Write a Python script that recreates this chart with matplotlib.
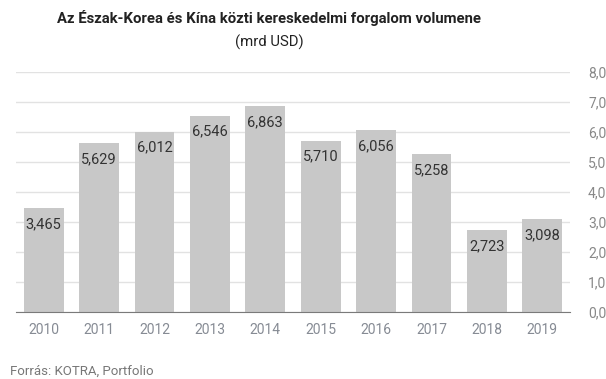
import matplotlib
matplotlib.use("Agg")
import matplotlib.pyplot as plt
from matplotlib.ticker import FuncFormatter

#%% data
years = ['2010', '2011', '2012', '2013', '2014', '2015', '2016', '2017', '2018', '2019']
volume = [3.465, 5.629, 6.012, 6.546, 6.863, 5.710, 6.056, 5.258, 2.723, 3.098]
yticks = [0, 1, 2, 3, 4, 5, 6, 7, 8]

plt.rcParams['font.family'] = ['Roboto', 'DejaVu Sans']

#%% figure
fig = plt.figure(figsize=(6.06, 3.79), dpi=100)
ax = fig.add_axes([16/606, 1 - 312/379, (570 - 16)/606, 240/379])

x = list(range(len(years)))
bars = ax.bar(x, volume, width=0.72, color='#c8c8c8', zorder=2)

# value labels inside bars, near the top
for b, v in zip(bars, volume):
    ax.annotate(f'{v:.3f}'.replace('.', ','),
                (b.get_x() + b.get_width()/2, v),
                xytext=(0, -16), textcoords='offset pixels',
                ha='center', va='center', fontsize=10.5, color='#333333', zorder=3)

ax.set_xlim(-0.5, len(years) - 0.5)
ax.set_ylim(0, 8)
ax.set_xticks(x)
ax.set_xticklabels(years)
ax.set_yticks(yticks)
ax.yaxis.set_major_formatter(FuncFormatter(lambda v, p: f'{v:.1f}'.replace('.', ',')))
ax.yaxis.tick_right()
ax.tick_params(axis='y', length=0, pad=13, labelsize=10, labelcolor='#888888')
ax.tick_params(axis='x', length=0, pad=8, labelsize=10, labelcolor='#868b94')
for lab in ax.get_yticklabels():
    lab.set_horizontalalignment('left')

ax.grid(axis='y', color='#e2e2e2', linewidth=1, zorder=0)
for s in ['top', 'left', 'right']:
    ax.spines[s].set_visible(False)
ax.spines['bottom'].set_color('#7a7a7a')
ax.spines['bottom'].set_zorder(4)

#%% texts
fig.text(269/606, 1 - 18/379, 'Az Észak-Korea és Kína közti kereskedelmi forgalom volumene',
         ha='center', va='center', fontsize=10.7, fontweight='bold', color='#222222')
fig.text(269/606, 1 - 42/379, '(mrd USD)', ha='center', va='center',
         fontsize=10.7, color='#222222')
fig.text(10/606, 1 - 371/379, 'Forrás: KOTRA, Portfolio', ha='left', va='center',
         fontsize=9.5, color='#777777')

fig.savefig('out.png', dpi=100)
